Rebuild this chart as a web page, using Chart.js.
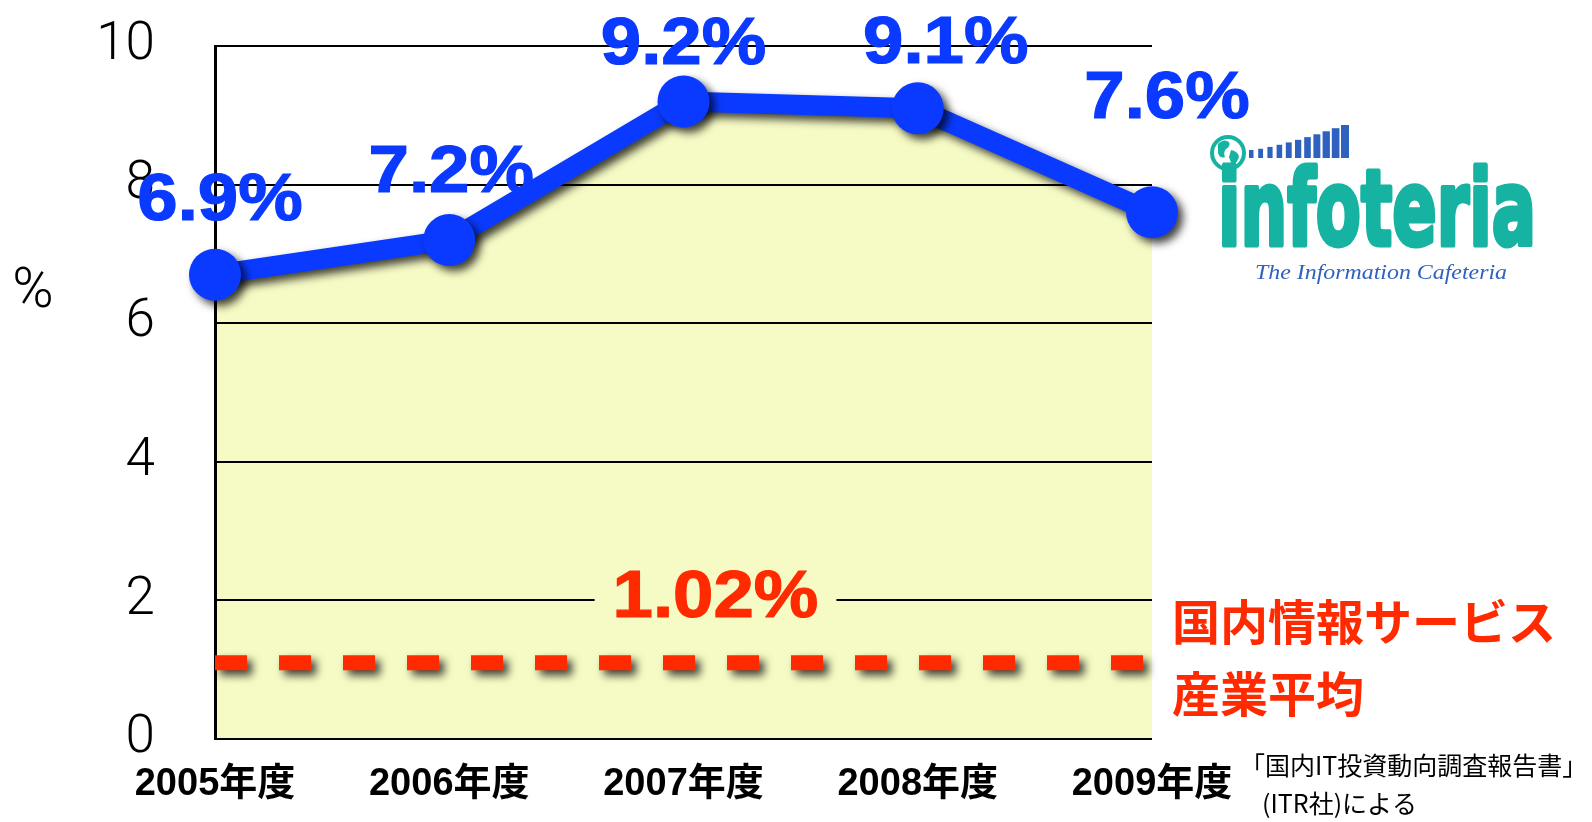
<!DOCTYPE html>
<html>
<head>
<meta charset="utf-8">
<script src="https://cdn.jsdelivr.net/npm/chart.js@4/dist/chart.umd.min.js"></script>
<style>
  html, body { margin: 0; padding: 0; background: #fff; }
  #wrap { position: relative; width: 1592px; height: 822px; overflow: hidden; }
  #c { position: absolute; left: 0; top: 0; }
  #logo { position: absolute; left: 0; top: 0; pointer-events: none; }
</style>
</head>
<body>
<div id="wrap">
  <canvas id="c" width="1592" height="822"></canvas>
  <svg id="logo" width="1592" height="822" viewBox="0 0 1592 822" xmlns="http://www.w3.org/2000/svg"></svg>
</div>
<script>
// ---- data ----
const categories = ['2005年度', '2006年度', '2007年度', '2008年度', '2009年度'];
const growthValues = [6.7, 7.2, 9.2, 9.1, 7.6];
const growthLabels = ['6.9%', '7.2%', '9.2%', '9.1%', '7.6%'];
const industryAverage = 1.1;
const industryAverageLabel = '1.02%';
const industryName = ['国内情報サービス', '産業平均'];
const yTickValues = [0, 2, 4, 6, 8, 10];
const yAxisTitle = '%';
const sourceNote = ['「国内IT投資動向調査報告書」', '(ITR社)による'];
const logoName = 'infoteria';
const logoTagline = 'The Information Cafeteria';

// ---- styles ----
const BLUE = '#0A3AFF';
const RED = '#FF2A00';
const FILL = '#F6FAC4';
const LATIN = '"Liberation Sans", Arial, Helvetica, sans-serif';
const CJK = '"Noto Sans CJK JP", "Noto Sans CJK SC", sans-serif';

const shadowPlugin = {
  id: 'shadowPlugin',
  beforeDatasetDraw(chart, args) {
    const ds = chart.data.datasets[args.index];
    if (!ds.shadow) return;
    const ctx = chart.ctx;
    ctx.save();
    ctx.shadowColor = 'rgba(0,0,0,0.75)';
    ctx.shadowBlur = 9;
    ctx.shadowOffsetX = 5;
    ctx.shadowOffsetY = 5;
  },
  afterDatasetDraw(chart, args) {
    const ds = chart.data.datasets[args.index];
    if (!ds.shadow) return;
    chart.ctx.restore();
  }
};

const annotatePlugin = {
  id: 'annotatePlugin',
  afterDatasetsDraw(chart, args, opts) {
    const ctx = chart.ctx;
    const xs = chart.scales.x, ys = chart.scales.y;
    const area = chart.chartArea;
    const labelSize = 66;
    const stretch = 1.1;

    function bigText(text, cx, cy, color) {
      ctx.save();
      ctx.font = 'bold ' + labelSize + 'px ' + LATIN;
      ctx.fillStyle = color;
      ctx.strokeStyle = color;
      ctx.lineWidth = 1.2;
      ctx.textAlign = 'center';
      ctx.textBaseline = 'alphabetic';
      ctx.translate(cx, cy + labelSize * 0.358);
      ctx.scale(stretch, 1);
      ctx.fillText(text, 0, 0);
      ctx.strokeText(text, 0, 0);
      ctx.restore();
    }

    // value labels above points
    const meta = chart.getDatasetMeta(opts.lineIndex);
    meta.data.forEach((pt, i) => {
      const off = opts.offsets[i];
      bigText(growthLabels[i], pt.x + off[0], pt.y + off[1], BLUE);
    });

    // industry average label, breaking the gridline behind it
    ctx.save();
    ctx.font = 'bold ' + labelSize + 'px ' + LATIN;
    const w = ctx.measureText(industryAverageLabel).width * stretch;
    ctx.restore();
    const gx = xs.getPixelForValue(2) + 32;
    const gridY = ys.getPixelForValue(2);
    ctx.save();
    ctx.fillStyle = FILL;
    ctx.fillRect(gx - w / 2 - 18, gridY - 4, w + 36, 8);
    ctx.restore();
    bigText(industryAverageLabel, gx, gridY - 7, RED);

    // industry name in red on the right
    ctx.save();
    ctx.font = 'bold 48px ' + CJK;
    ctx.fillStyle = RED;
    ctx.textAlign = 'left';
    ctx.textBaseline = 'middle';
    ctx.fillText(industryName[0], area.right + 20, 622);
    ctx.fillText(industryName[1], area.right + 20, 694);
    ctx.restore();

    // source note
    ctx.save();
    ctx.font = '25px ' + CJK;
    ctx.fillStyle = '#000';
    ctx.textAlign = 'left';
    ctx.textBaseline = 'middle';
    ctx.fillText(sourceNote[0], 1240, 765);
    ctx.fillText(sourceNote[1], 1262, 803);
    ctx.restore();

    // y axis title
    ctx.save();
    ctx.font = '300 56px Roboto, ' + LATIN;
    ctx.fillStyle = '#000';
    ctx.textAlign = 'center';
    ctx.textBaseline = 'middle';
    ctx.fillText(yAxisTitle, 33, 293);
    ctx.restore();
  }
};

const chart = new Chart(document.getElementById('c'), {
  type: 'line',
  data: {
    labels: categories,
    datasets: [
      {
        data: growthValues,
        fill: 'origin',
        backgroundColor: FILL,
        borderWidth: 0,
        pointRadius: 0,
        order: 3,
        clip: false
      },
      {
        data: categories.map(() => industryAverage),
        borderColor: RED,
        borderWidth: 15,
        borderDash: [32, 32],
        borderCapStyle: 'butt',
        pointRadius: 0,
        fill: false,
        order: 2,
        clip: false,
        shadow: true
      },
      {
        data: growthValues,
        borderColor: BLUE,
        borderWidth: 20,
        borderJoinStyle: 'round',
        pointRadius: 26,
        pointBackgroundColor: BLUE,
        pointBorderWidth: 0,
        fill: false,
        order: 1,
        clip: false,
        shadow: true
      }
    ]
  },
  options: {
    responsive: false,
    animation: false,
    layout: { padding: { left: 0, top: 46, right: 440, bottom: 0 } },
    plugins: {
      legend: { display: false },
      tooltip: { enabled: false },
      filler: { drawTime: 'beforeDraw' },
      annotatePlugin: {
        lineIndex: 2,
        offsets: [[5, -78], [2, -72], [0, -61], [28, -69], [15, -118]]
      }
    },
    scales: {
      x: {
        offset: false,
        grid: { display: false, drawTicks: false },
        border: { display: false },
        ticks: {
          color: '#000',
          font: { family: LATIN + ', ' + CJK, size: 38, weight: 'bold' },
          padding: 23,
          maxRotation: 0,
          autoSkip: false
        },
        afterFit(s) { s.height = 83; s.paddingLeft = 0; s.paddingRight = 0; }
      },
      y: {
        min: 0,
        max: 10,
        afterBuildTicks(s) { s.ticks = yTickValues.map(v => ({ value: v })); },
        grid: { color: '#000', lineWidth: 2, drawTicks: false },
        border: { display: true, color: '#000', width: 3 },
        ticks: {
          color: '#000',
          font: { family: 'Roboto, ' + LATIN, size: 53, weight: '300' },
          padding: 60
        },
        afterFit(s) { s.width = 215; s.paddingTop = 0; s.paddingBottom = 0; }
      }
    }
  },
  plugins: [shadowPlugin, annotatePlugin]
});

// ---- logo (drawn as vector + real text) ----
(function drawLogo() {
  const svg = document.getElementById('logo');
  const NS = 'http://www.w3.org/2000/svg';
  function el(name, attrs, text) {
    const e = document.createElementNS(NS, name);
    for (const k in attrs) e.setAttribute(k, attrs[k]);
    if (text) e.textContent = text;
    svg.appendChild(e);
    return e;
  }
  const TEAL = '#17B3A2';
  const LBLUE = '#2F62BE';
  // globe
  el('circle', { cx: 1228, cy: 153, r: 16, fill: '#fff', stroke: TEAL, 'stroke-width': 4 });
  el('path', { d: 'M1218,144 q6,-6 11,-2 q2,4 -3,7 q-3,3 -1,8 q-5,2 -7,-4 z', fill: TEAL });
  el('path', { d: 'M1231,150 q6,1 8,6 q-1,7 -7,9 q-2,-5 -3,-8 z', fill: TEAL });
  // bars
  for (let i = 0; i < 11; i++) {
    const h = 8 + Math.pow(i / 10, 1.3) * 25;
    const bw = 4.5 + i * 0.35;
    const bx = 1249 + i * 9.2;
    el('rect', { x: bx, y: 158 - h, width: bw, height: h, fill: LBLUE });
  }
  // name
  el('text', {
    x: 1218, y: 245, 'font-family': '"DejaVu Sans", sans-serif', 'font-weight': 'bold',
    'font-size': 106, fill: TEAL, stroke: TEAL, 'stroke-width': 5, 'stroke-linejoin': 'round',
    textLength: 318, lengthAdjust: 'spacingAndGlyphs'
  }, logoName);
  // tagline
  el('text', {
    x: 1255, y: 279, 'font-family': '"Liberation Serif", "DejaVu Serif", serif', 'font-style': 'italic',
    'font-size': 22, fill: LBLUE, textLength: 252, lengthAdjust: 'spacingAndGlyphs'
  }, logoTagline);
})();
</script>
</body>
</html>
